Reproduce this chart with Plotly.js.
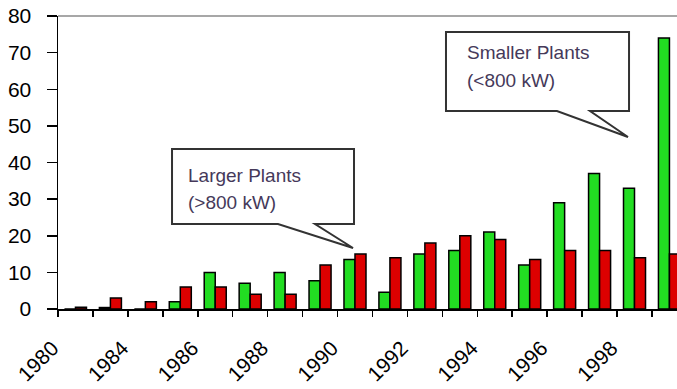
<!DOCTYPE html>
<html>
<head>
<meta charset="utf-8">
<script src="https://cdn.plot.ly/plotly-3.0.1.min.js"></script>
<style>
  html, body { margin: 0; padding: 0; background: #fff; overflow: hidden; }
  #chart { width: 677px; height: 389px; }
</style>
</head>
<body>
<div id="chart"></div>
<script>
// Installation years (one bar pair per year)
const years = ['1980', '1982', '1984', '1985', '1986', '1987', '1988', '1989', '1990',
               '1991', '1992', '1993', '1994', '1995', '1996', '1997', '1998', '1999'];

// Every other year carries a label
const tickLabels = ['1980', '', '1984', '', '1986', '', '1988', '', '1990',
                    '', '1992', '', '1994', '', '1996', '', '1998', ''];

// Smaller plants (<800 kW)
const smallerPlants = [0, 0.4, 0, 2, 10, 7, 10, 7.7, 13.5, 4.6, 15, 16, 21, 12, 29, 37, 33, 74];

// Larger plants (>800 kW)
const largerPlants = [0.5, 3, 2, 6, 6, 4, 4, 12, 15, 14, 18, 20, 19, 13.5, 16, 16, 14, 15];

// Callout texts
const calloutLarger = ['Larger Plants', '(&gt;800 kW)'];
const calloutSmaller = ['Smaller Plants', '(&lt;800 kW)'];

const W = 677, H = 389;
const M = { l: 58, r: 0, t: 16, b: 80 };

// pixel -> paper helpers for the callout balloons
const px = x => (x - M.l) / (W - M.l - M.r);
const py = y => (H - M.b - y) / (H - M.t - M.b);
function balloon(pts) {
  return 'M' + pts.map(p => px(p[0]).toFixed(4) + ',' + py(p[1]).toFixed(4)).join(' L') + ' Z';
}

const FAMILY = 'Liberation Sans, Arial, sans-serif';
const noteFont = { family: FAMILY, size: 19, color: '#45395a' };

function noteLine(text, x, y) {
  return { xref: 'paper', yref: 'paper', x: px(x), y: py(y), xanchor: 'left', yanchor: 'middle',
           align: 'left', showarrow: false, font: noteFont, text: text };
}

const traces = [
  {
    type: 'bar', name: 'Smaller Plants', x: years, y: smallerPlants,
    marker: { color: '#22dd22', line: { color: '#000', width: 1.5 } },
    hoverinfo: 'x+y'
  },
  {
    type: 'bar', name: 'Larger Plants', x: years, y: largerPlants,
    marker: { color: '#dd0000', line: { color: '#000', width: 1.5 } },
    hoverinfo: 'x+y'
  }
];

const layout = {
  width: W, height: H,
  margin: M,
  paper_bgcolor: '#fff', plot_bgcolor: '#fff',
  showlegend: false,
  barmode: 'group', bargap: 0.37, bargroupgap: 0,
  xaxis: {
    type: 'category',
    range: [-0.5, -0.5 + (W - M.l - M.r) / 34.94],
    tickmode: 'array', tickvals: years, ticktext: tickLabels,
    tickson: 'boundaries',
    ticks: 'outside', ticklen: 6, tickwidth: 1.5, tickcolor: '#000',
    showline: true, linecolor: '#000', linewidth: 1.5,
    showgrid: false, zeroline: false,
    tickangle: -45,
    tickfont: { family: FAMILY, size: 21, color: '#000' },
    ticklabelstandoff: 17,
    ticklabelshift: -23,
    fixedrange: true
  },
  yaxis: {
    range: [0, 80], dtick: 10,
    ticks: 'outside', ticklen: 10, tickwidth: 1.5, tickcolor: '#000',
    showline: true, linecolor: '#000', linewidth: 1.5,
    showgrid: false, zeroline: false,
    tickfont: { family: FAMILY, size: 21, color: '#000' },
    ticklabelstandoff: 11,
    fixedrange: true
  },
  shapes: [
    // top frame line
    { type: 'line', xref: 'paper', yref: 'paper', x0: 0, x1: 1, y0: 1, y1: 1,
      line: { color: '#8a8a8a', width: 1.5 } },
    // callout balloons
    { type: 'path', xref: 'paper', yref: 'paper',
      path: balloon([[172, 149], [354, 149], [354, 224], [315, 224], [353, 248], [278, 224], [172, 224]]),
      fillcolor: '#fff', line: { color: '#333', width: 2 } },
    { type: 'path', xref: 'paper', yref: 'paper',
      path: balloon([[446, 32], [629, 32], [629, 111], [590, 111], [628, 137], [557, 111], [446, 111]]),
      fillcolor: '#fff', line: { color: '#333', width: 2 } }
  ],
  annotations: [
    noteLine(calloutLarger[0], 186, 175),
    noteLine(calloutLarger[1], 186, 202),
    noteLine(calloutSmaller[0], 465, 52),
    noteLine(calloutSmaller[1], 465, 80)
  ]
};

Plotly.newPlot('chart', traces, layout, { displayModeBar: false, staticPlot: true });
</script>
</body>
</html>
